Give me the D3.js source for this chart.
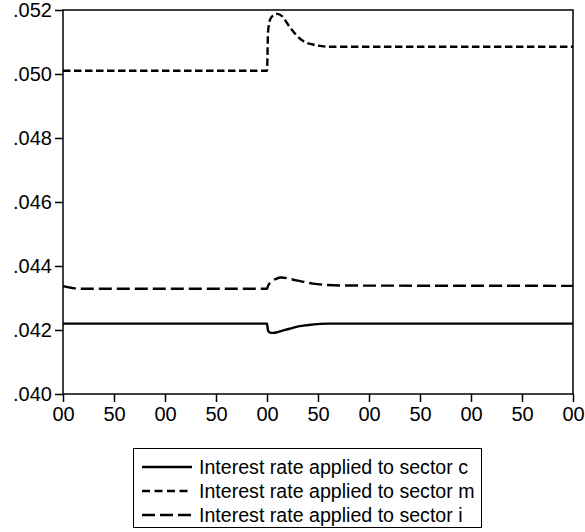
<!DOCTYPE html>
<html>
<head>
<meta charset="utf-8">
<script src="https://cdn.jsdelivr.net/npm/d3@7"></script>
<style>
	body { margin: 0; background: #fff; }
	svg { display: block; }
	text { font-family: "Liberation Sans", Arial, sans-serif; fill: #000; }
</style>
</head>
<body>
<div id="chart"></div>
<script>
// series (period, value)
const seriesNames = [
	"Interest rate applied to sector c",
	"Interest rate applied to sector m",
	"Interest rate applied to sector i"
];

const periodsC = [0, 200, 201, 203, 206, 212, 222, 232, 239, 252, 260, 500];
const valuesC = [0.0422, 0.0422, 0.04198, 0.04192, 0.04191, 0.04195, 0.04204, 0.04212, 0.04215, 0.04219, 0.0422, 0.0422];

const periodsM = [0, 200, 201, 203, 206, 210, 215, 222, 234, 248, 262, 500];
const valuesM = [0.0501, 0.0501, 0.0513, 0.0517, 0.05183, 0.05188, 0.0518, 0.05148, 0.05106, 0.0509, 0.05085, 0.05085];

const periodsI = [0, 8, 15, 200, 201, 204, 209, 214, 229, 245, 272, 500];
const valuesI = [0.04337, 0.04332, 0.04329, 0.04329, 0.04338, 0.0435, 0.0436, 0.04364, 0.04355, 0.04345, 0.04339, 0.04338];

const yTicks = [0.040, 0.042, 0.044, 0.046, 0.048, 0.050, 0.052];
const xTicks = [0, 50, 100, 150, 200, 250, 300, 350, 400, 450, 500];

const width = 585;
const height = 532;
const margin = { top: 10, right: 12, left: 63 };
const plotBottom = 394;

const svg = d3.select("#chart").append("svg")
	.attr("width", width)
	.attr("height", height);

const x = d3.scaleLinear().domain([0, 500]).range([margin.left, width - margin.right]);
const y = d3.scaleLinear().domain([0.040, 0.052]).range([plotBottom, margin.top]);

// axes
const xAxis = d3.axisBottom(x)
	.tickValues(xTicks)
	.tickSize(8)
	.tickPadding(5)
	.tickFormat((d) => d3.format("02d")(d % 100));

const yAxis = d3.axisLeft(y)
	.tickValues(yTicks)
	.tickSize(8)
	.tickPadding(3)
	.tickFormat((d) => d3.format(".3f")(d).replace(/^0/, ""));

svg.append("g")
	.attr("transform", `translate(0,${plotBottom})`)
	.call(xAxis)
	.call((g) => g.select(".domain").remove())
	.call((g) => g.selectAll("line").attr("stroke", "#000").attr("stroke-width", 1.5))
	.call((g) => g.selectAll("text").style("font-size", "20px"));

svg.append("g")
	.attr("transform", `translate(${margin.left},0)`)
	.call(yAxis)
	.call((g) => g.select(".domain").remove())
	.call((g) => g.selectAll("line").attr("stroke", "#000").attr("stroke-width", 1.5))
	.call((g) => g.selectAll("text").style("font-size", "20px"));

// frame
svg.append("rect")
	.attr("x", margin.left)
	.attr("y", margin.top)
	.attr("width", x.range()[1] - x.range()[0])
	.attr("height", plotBottom - margin.top)
	.attr("fill", "none")
	.attr("stroke", "#000")
	.attr("stroke-width", 1.5);

const styles = [
	{ dash: null },
	{ dash: "7.5,3.5" },
	{ dash: "13,5" }
];

const series = [
	periodsC.map((p, i) => [p, valuesC[i]]),
	periodsM.map((p, i) => [p, valuesM[i]]),
	periodsI.map((p, i) => [p, valuesI[i]])
];

const line = d3.line()
	.x((d) => x(d[0]))
	.y((d) => y(d[1]))
	.curve(d3.curveMonotoneX);

svg.append("g")
	.selectAll("path")
	.data(series)
	.join("path")
	.attr("d", line)
	.attr("fill", "none")
	.attr("stroke", "#000")
	.attr("stroke-width", 2.4)
	.attr("stroke-dasharray", (d, i) => styles[i].dash);

// legend
const legend = svg.append("g");
legend.append("rect")
	.attr("x", 133.5)
	.attr("y", 448.5)
	.attr("width", 348)
	.attr("height", 79)
	.attr("fill", "#fff")
	.attr("stroke", "#000")
	.attr("stroke-width", 1);

const rows = legend.selectAll("g.row")
	.data(seriesNames)
	.join("g")
	.attr("class", "row")
	.attr("transform", (d, i) => `translate(0,${467 + i * 24})`);

rows.append("line")
	.attr("x1", 142)
	.attr("x2", 192)
	.attr("stroke", "#000")
	.attr("stroke-width", 2.4)
	.attr("stroke-dasharray", (d, i) => (i === 1 ? "8,4.5" : styles[i].dash));

rows.append("text")
	.attr("x", 199)
	.attr("dy", "0.35em")
	.style("font-size", "19.6px")
	.text((d) => d);
</script>
</body>
</html>
